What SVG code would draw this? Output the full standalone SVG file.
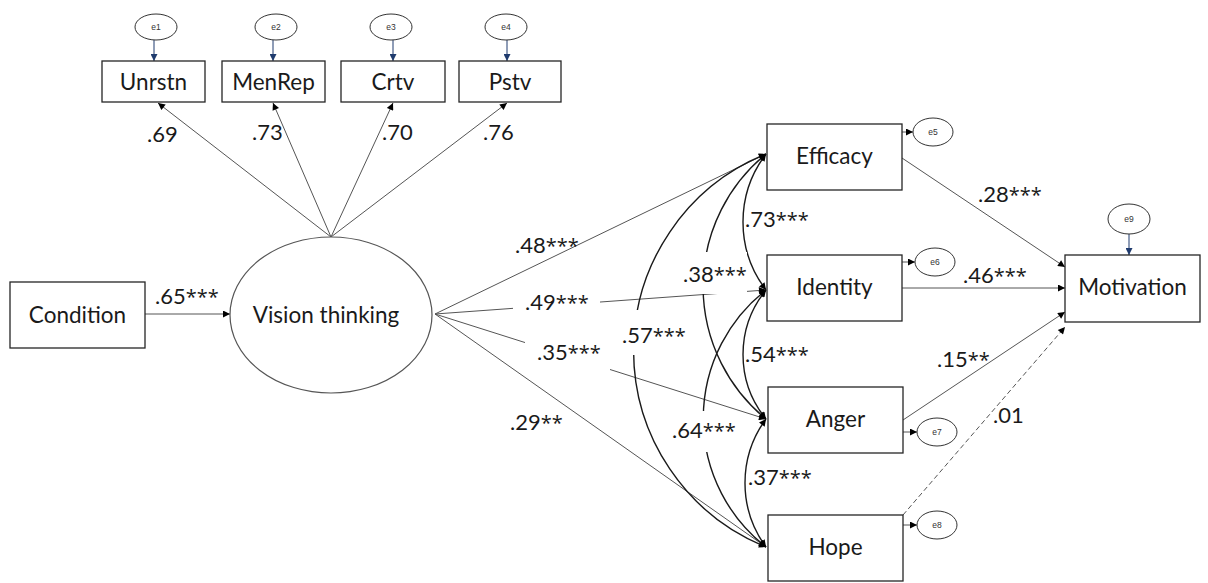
<svg xmlns="http://www.w3.org/2000/svg" width="1208" height="583" viewBox="0 0 1208 583">
  <defs>
    <style>
      .box{fill:#fff;stroke:#262626;stroke-width:1.3}
      .lat{fill:#fff;stroke:#555;stroke-width:1.2}
      .err{fill:#fff;stroke:#333;stroke-width:1}
      .t{font-family:Lato,"Liberation Sans",sans-serif;font-size:22.5px;fill:#1a1a1a;text-anchor:middle}
      .et{font-family:"Liberation Sans",sans-serif;font-size:8.5px;fill:#333;text-anchor:middle}
      .lbl{font-family:Lato,"Liberation Sans",sans-serif;font-size:22px;fill:#1a1a1a}
      .s{font-family:"Open Sans","Liberation Sans",sans-serif;font-size:20px}
      .p{stroke:#555;stroke-width:1;fill:none}
      .pe{stroke:#1f3b6e;stroke-width:1;fill:none}
      .cov{stroke:#1a1a1a;stroke-width:1.4;fill:none}
      .bg{fill:#fff}
    </style>
    <marker id="ah" viewBox="0 0 10 10" refX="10" refY="5" markerWidth="9" markerHeight="7" markerUnits="userSpaceOnUse" orient="auto-start-reverse">
      <path d="M0,0 L10,5 L0,10 z" fill="#000"/>
    </marker>
    <marker id="ahb" viewBox="0 0 10 10" refX="10" refY="5" markerWidth="8" markerHeight="7" markerUnits="userSpaceOnUse" orient="auto">
      <path d="M0,0 L10,5 L0,10 z" fill="#1f3b6e"/>
    </marker>
  </defs>
  <rect width="1208" height="583" fill="#fff"/>

  <!-- connectors -->
  <g id="connectors">
    <!-- loadings of Vision thinking -->
    <line class="p" x1="331" y1="237" x2="158" y2="103" marker-end="url(#ah)"/>
    <line class="p" x1="331" y1="237" x2="273" y2="103" marker-end="url(#ah)"/>
    <line class="p" x1="331" y1="237" x2="393" y2="103" marker-end="url(#ah)"/>
    <line class="p" x1="331" y1="237" x2="507" y2="103" marker-end="url(#ah)"/>
    <!-- indicator errors -->
    <line class="pe" x1="154" y1="40" x2="154" y2="61" marker-end="url(#ahb)"/>
    <line class="pe" x1="273" y1="40" x2="273" y2="61" marker-end="url(#ahb)"/>
    <line class="pe" x1="393" y1="40" x2="393" y2="61" marker-end="url(#ahb)"/>
    <line class="pe" x1="507" y1="40" x2="507" y2="61" marker-end="url(#ahb)"/>
    <line class="pe" x1="1129" y1="234" x2="1129" y2="255" marker-end="url(#ahb)"/>
    <!-- Condition -> Vision thinking -->
    <line class="p" x1="145" y1="314" x2="230" y2="314" marker-end="url(#ah)"/>
    <!-- Vision thinking -> mediators -->
    <line class="p" x1="435" y1="314" x2="766" y2="154" marker-end="url(#ah)"/>
    <line class="p" x1="435" y1="314" x2="766" y2="290" marker-end="url(#ah)"/>
    <line class="p" x1="435" y1="314" x2="766" y2="419" marker-end="url(#ah)"/>
    <line class="p" x1="435" y1="314" x2="766" y2="547" marker-end="url(#ah)"/>
    <!-- residual covariances -->
    <path class="cov" d="M766,154 A112,112 0 0 0 766,290" marker-start="url(#ah)" marker-end="url(#ah)"/>
    <path class="cov" d="M766,290 A102,102 0 0 0 766,419" marker-start="url(#ah)" marker-end="url(#ah)"/>
    <path class="cov" d="M766,419 A108,108 0 0 0 766,547" marker-start="url(#ah)" marker-end="url(#ah)"/>
    <path class="cov" d="M766,154 A171,171 0 0 0 766,419" marker-start="url(#ah)" marker-end="url(#ah)"/>
    <path class="cov" d="M766,290 A163,163 0 0 0 766,547" marker-start="url(#ah)" marker-end="url(#ah)"/>
    <path class="cov" d="M766,154 A212,212 0 0 0 766,547" marker-start="url(#ah)" marker-end="url(#ah)"/>
    <!-- mediator errors -->
    <line class="p" x1="902" y1="132" x2="913" y2="132" marker-end="url(#ah)"/>
    <line class="p" x1="902" y1="262" x2="915" y2="262" marker-end="url(#ah)"/>
    <line class="p" x1="903" y1="432" x2="917" y2="432" marker-end="url(#ah)"/>
    <line class="p" x1="903" y1="525" x2="917" y2="525" marker-end="url(#ah)"/>
    <!-- mediators -> Motivation -->
    <line class="p" x1="902" y1="158" x2="1065" y2="267" marker-end="url(#ah)"/>
    <line class="p" x1="902" y1="288" x2="1065" y2="288" marker-end="url(#ah)"/>
    <line class="p" x1="903" y1="420" x2="1065" y2="312" marker-end="url(#ah)"/>
    <line class="p" x1="903" y1="515" x2="1065" y2="327" stroke-dasharray="5,3" marker-end="url(#ah)"/>
  </g>

  <!-- coefficient labels -->
  <g id="labels">
    <text class="lbl" x="147" y="142">.69</text>
    <text class="lbl" x="252" y="140">.73</text>
    <text class="lbl" x="382" y="140">.70</text>
    <text class="lbl" x="483" y="140">.76</text>
    <text class="lbl" x="155" y="304">.65<tspan class="s">***</tspan></text>
    <text class="lbl" x="515" y="253">.48<tspan class="s">***</tspan></text>
    <rect class="bg" x="513" y="292" width="87" height="22"/>
    <text class="lbl" x="525" y="310">.49<tspan class="s">***</tspan></text>
    <rect class="bg" x="525" y="340" width="85" height="32"/>
    <text class="lbl" x="537" y="360">.35<tspan class="s">***</tspan></text>
    <text class="lbl" x="510" y="430">.29<tspan class="s">**</tspan></text>
    <rect class="bg" x="620" y="310" width="66" height="45"/>
    <text class="lbl" x="622" y="343">.57<tspan class="s">***</tspan></text>
    <rect class="bg" x="683" y="252" width="64" height="42"/>
    <text class="lbl" x="683" y="282">.38<tspan class="s">***</tspan></text>
    <rect class="bg" x="670" y="411" width="68" height="41"/>
    <text class="lbl" x="672" y="438">.64<tspan class="s">***</tspan></text>
    <text class="lbl" x="745" y="227">.73<tspan class="s">***</tspan></text>
    <text class="lbl" x="745" y="362">.54<tspan class="s">***</tspan></text>
    <text class="lbl" x="748" y="485">.37<tspan class="s">***</tspan></text>
    <text class="lbl" x="978" y="202">.28<tspan class="s">***</tspan></text>
    <text class="lbl" x="963" y="283">.46<tspan class="s">***</tspan></text>
    <text class="lbl" x="937" y="367">.15<tspan class="s">**</tspan></text>
    <text class="lbl" x="993" y="423">.01</text>
  </g>

  <!-- indicators -->
  <g id="e1"><ellipse class="err" cx="156" cy="27" rx="21" ry="13"/><text class="et" x="156" y="30">e1</text></g>
  <g id="e2"><ellipse class="err" cx="276" cy="27" rx="21" ry="13"/><text class="et" x="276" y="30">e2</text></g>
  <g id="e3"><ellipse class="err" cx="391" cy="27" rx="21" ry="13"/><text class="et" x="391" y="30">e3</text></g>
  <g id="e4"><ellipse class="err" cx="506" cy="27" rx="21" ry="13"/><text class="et" x="506" y="30">e4</text></g>
  <g id="Unrstn"><rect class="box" x="102" y="61" width="103" height="41"/><text class="t" x="153.5" y="90">Unrstn</text></g>
  <g id="MenRep"><rect class="box" x="222" y="61" width="103" height="41"/><text class="t" x="273.5" y="90">MenRep</text></g>
  <g id="Crtv"><rect class="box" x="341" y="61" width="104" height="41"/><text class="t" x="393" y="90">Crtv</text></g>
  <g id="Pstv"><rect class="box" x="459" y="61" width="102" height="41"/><text class="t" x="510" y="90">Pstv</text></g>

  <!-- exogenous and latent -->
  <g id="Condition"><rect class="box" x="10" y="282" width="135" height="66"/><text class="t" x="77.5" y="323">Condition</text></g>
  <g id="VisionThinking"><ellipse class="lat" cx="331" cy="315" rx="101" ry="78"/><text class="t" x="326" y="323">Vision thinking</text></g>

  <!-- mediators -->
  <g id="Efficacy"><rect class="box" x="767" y="124" width="135" height="66"/><text class="t" x="834.5" y="164">Efficacy</text></g>
  <g id="Identity"><rect class="box" x="767" y="255" width="135" height="66"/><text class="t" x="834.5" y="295">Identity</text></g>
  <g id="Anger"><rect class="box" x="768" y="387" width="135" height="66"/><text class="t" x="835.5" y="427">Anger</text></g>
  <g id="Hope"><rect class="box" x="768" y="515" width="135" height="66"/><text class="t" x="835.5" y="555">Hope</text></g>
  <g id="e5"><ellipse class="err" cx="933" cy="132" rx="20" ry="14"/><text class="et" x="933" y="135">e5</text></g>
  <g id="e6"><ellipse class="err" cx="935" cy="262" rx="20" ry="14"/><text class="et" x="935" y="265">e6</text></g>
  <g id="e7"><ellipse class="err" cx="937" cy="432" rx="20" ry="14"/><text class="et" x="937" y="435">e7</text></g>
  <g id="e8"><ellipse class="err" cx="937" cy="525" rx="20" ry="14"/><text class="et" x="937" y="528">e8</text></g>

  <!-- outcome -->
  <g id="e9"><ellipse class="err" cx="1129" cy="219" rx="21" ry="15"/><text class="et" x="1129" y="222">e9</text></g>
  <g id="Motivation"><rect class="box" x="1065" y="255" width="135" height="67"/><text class="t" x="1132.5" y="295">Motivation</text></g>
</svg>
